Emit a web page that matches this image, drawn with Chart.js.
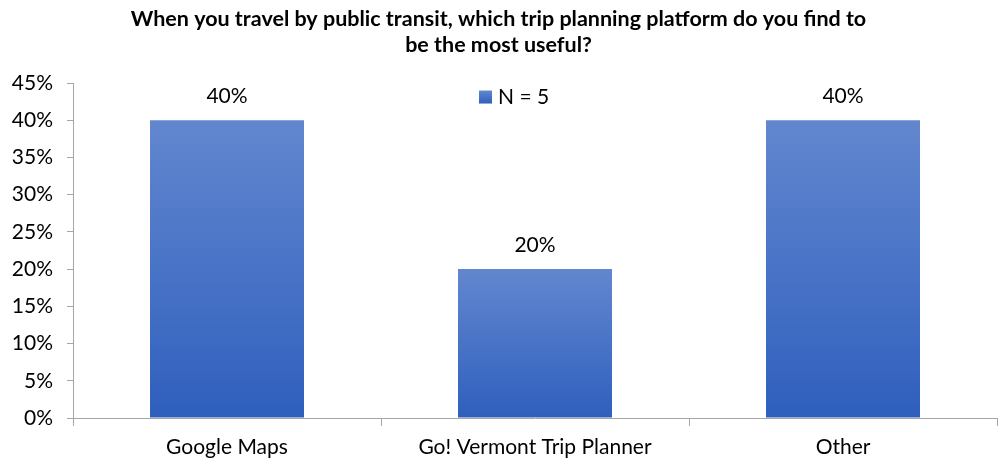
<!DOCTYPE html>
<html>
<head>
<meta charset="utf-8">
<script src="https://cdn.jsdelivr.net/npm/chart.js@4.4.0/dist/chart.umd.min.js"></script>
<style>
html,body{margin:0;padding:0;background:#fff;}
#wrap{width:1005px;height:465px;position:relative;}
</style>
</head>
<body>
<div id="wrap"><canvas id="c"></canvas></div>
<script>
const titleLines = ["When you travel by public transit, which trip planning platform do you find to", "be the most useful?"];
const categories = ["Google Maps", "Go! Vermont Trip Planner", "Other"];
const seriesLabel = "N = 5";
const values = [40, 20, 40];
const yTicks = [0, 5, 10, 15, 20, 25, 30, 35, 40, 45];

const FONT = "Lato, 'Open Sans', sans-serif";
const TOP_COLOR = "#6287cf";
const BOT_COLOR = "#2f5fbd";
const TEXT_SIZE = 21;

function barGradient(ctx) {
  const chart = ctx.chart;
  const area = chart.chartArea;
  if (!area || ctx.type !== 'data') return TOP_COLOR;
  const y = chart.scales.y;
  const top = y.getPixelForValue(ctx.raw);
  const bot = y.getPixelForValue(0);
  const g = chart.ctx.createLinearGradient(0, top, 0, bot);
  g.addColorStop(0, TOP_COLOR);
  g.addColorStop(1, BOT_COLOR);
  return g;
}

const labelPlugin = {
  id: 'valueLabels',
  afterDatasetsDraw(chart) {
    const ctx = chart.ctx;
    const meta = chart.getDatasetMeta(0);
    ctx.save();
    ctx.font = TEXT_SIZE + "px " + FONT;
    ctx.fillStyle = "#000";
    ctx.textAlign = "center";
    ctx.textBaseline = "alphabetic";
    meta.data.forEach((bar, i) => {
      ctx.fillText(values[i] + "%", bar.x, bar.y - 17);
    });
    ctx.restore();
  }
};

const legendPlugin = {
  id: 'innerLegend',
  afterDraw(chart) {
    const ctx = chart.ctx;
    const area = chart.chartArea;
    ctx.save();
    ctx.font = TEXT_SIZE + "px " + FONT;
    const tw = ctx.measureText(seriesLabel).width;
    const box = 13;
    const gap = 6;
    const total = box + gap + tw;
    const cx = area.left + (area.right - area.left) * 0.477;
    const x0 = Math.round(cx - total / 2);
    const yc = area.top + 14;
    const g = ctx.createLinearGradient(0, yc - box/2, 0, yc + box/2);
    g.addColorStop(0, TOP_COLOR);
    g.addColorStop(1, BOT_COLOR);
    ctx.fillStyle = g;
    ctx.fillRect(x0, yc - box/2, box, box);
    ctx.fillStyle = "#000";
    ctx.textAlign = "left";
    ctx.textBaseline = "middle";
    ctx.fillText(seriesLabel, x0 + box + gap, yc);
    ctx.restore();
  }
};

new Chart(document.getElementById('c'), {
  type: 'bar',
  data: {
    labels: categories,
    datasets: [{
      label: seriesLabel,
      data: values,
      backgroundColor: barGradient,
      borderWidth: 0,
      categoryPercentage: 1.0,
      barPercentage: 0.5
    }]
  },
  options: {
    responsive: true,
    maintainAspectRatio: false,
    animation: false,
    layout: { padding: { left: 0, right: 8, top: 5, bottom: 0 } },
    plugins: {
      legend: { display: false },
      tooltip: { enabled: false },
      title: {
        display: true,
        text: titleLines,
        color: "#000",
        font: { family: FONT, size: 21.5, weight: 'bold', lineHeight: 1.21 },
        padding: { top: 1, bottom: 25 }
      }
    },
    scales: {
      y: {
        min: 0, max: 45,
        afterBuildTicks(scale) { scale.ticks = yTicks.map(v => ({ value: v })); },
        afterFit(scale) { scale.width = 73; },
        ticks: {
          color: "#000",
          font: { family: FONT, size: TEXT_SIZE },
          padding: 14,
          callback: v => v + "%"
        },
        grid: { drawOnChartArea: false, drawTicks: true, tickLength: 6, color: "#a6a6a6" },
        border: { display: true, color: "#a6a6a6", width: 1 }
      },
      x: {
        afterFit(scale) { scale.height = 47; },
        ticks: {
          color: "#000",
          font: { family: FONT, size: TEXT_SIZE },
          padding: 9
        },
        grid: { drawOnChartArea: false, drawTicks: true, tickLength: 8, color: "#a6a6a6", offset: true },
        border: { display: true, color: "#a6a6a6", width: 1 }
      }
    }
  },
  plugins: [labelPlugin, legendPlugin]
});
</script>
</body>
</html>
